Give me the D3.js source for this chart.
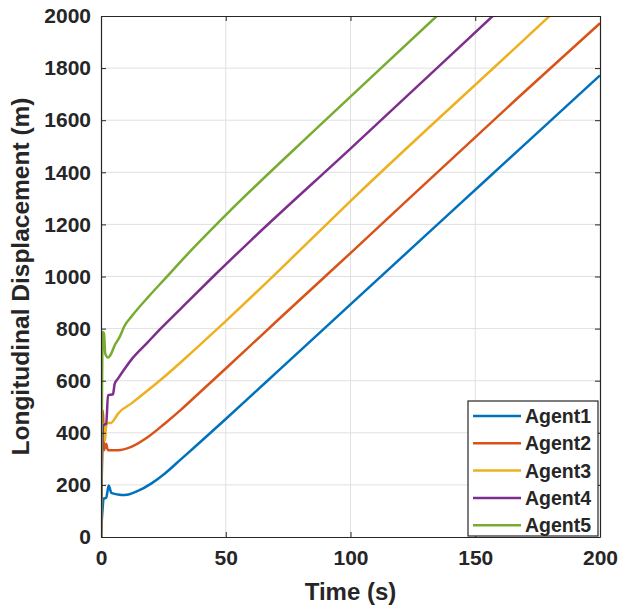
<!DOCTYPE html>
<html>
<head>
<meta charset="utf-8">
<script src="https://cdn.jsdelivr.net/npm/d3@7"></script>
<style>
  body { margin: 0; background: #fff; }
  text { font-family: "Liberation Sans", Arial, sans-serif; font-weight: bold; fill: #262626; }
</style>
</head>
<body>
<svg id="chart" width="637" height="611"></svg>
<script>
const agentNames = ['Agent1', 'Agent2', 'Agent3', 'Agent4', 'Agent5'];
const agentColors = ['#0072BD', '#D95319', '#EDB120', '#7E2F8E', '#77AC30'];

const xTicks = [0, 50, 100, 150, 200];
const yTicks = [0, 200, 400, 600, 800, 1000, 1200, 1400, 1600, 1800, 2000];

// time (s) / displacement (m)
const agent1T = [0, 0.3, 0.7, 1.0, 2.1, 2.6, 3.1, 3.6, 4.1, 6.8, 9.5, 14.8, 20.1, 25.5, 32.1, 38.8, 49.9, 58.8, 70.8, 100, 145.6, 168, 200];
const agent1Y = [0, 60, 115, 147, 151, 175, 198, 185, 169, 163, 161, 177, 205, 243, 299, 356, 452, 530, 636, 893, 1294, 1491, 1772];

const agent2T = [0, 0.3, 0.6, 0.8, 1.0, 1.2, 1.6, 2.1, 2.5, 2.8, 6.8, 12.1, 18.8, 25.5, 32.1, 38.8, 49.9, 58.8, 70.8, 100, 122.9, 168, 200];
const agent2Y = [0, 300, 470, 486, 420, 333, 345, 358, 340, 333, 333, 346, 384, 435, 489, 548, 646, 725, 832, 1090, 1294, 1694, 1972];

const agent3T = [0, 0.3, 0.6, 0.9, 1.3, 1.6, 2.0, 2.5, 4.1, 5.5, 6.8, 12.1, 18.8, 25.5, 32.1, 38.8, 49.9, 70.8, 100.5, 168, 200];
const agent3Y = [0, 250, 400, 435, 390, 370, 420, 438, 438, 454, 473, 512, 563, 616, 672, 730, 828, 1018, 1294, 1895, 2180];

const agent4T = [0, 0.3, 0.6, 0.9, 2.1, 2.8, 4.8, 5.5, 6.8, 9.5, 12.1, 18.8, 23.5, 32.1, 45, 60, 100, 157, 200];
const agent4Y = [0, 230, 380, 429, 435, 544, 548, 589, 608, 646, 680, 748, 796, 878, 1000, 1138, 1491, 2000, 2385];

const agent5T = [0, 0.3, 0.7, 1.2, 1.7, 2.8, 4.1, 5.5, 7.5, 9.5, 12.1, 18.8, 25.5, 34.8, 50, 87.8, 134.6, 200];
const agent5Y = [0, 420, 787, 781, 704, 689, 704, 736, 768, 812, 845, 920, 990, 1087, 1236, 1581, 2000, 2590];

const agentTimes = [agent1T, agent2T, agent3T, agent4T, agent5T];
const agentValues = [agent1Y, agent2Y, agent3Y, agent4Y, agent5Y];

const svg = d3.select('#chart');
const margin = { left: 101, top: 16, right: 37, bottom: 74 };
const width = +svg.attr('width') - margin.left - margin.right;
const height = +svg.attr('height') - margin.top - margin.bottom;

const x = d3.scaleLinear().domain([0, 200]).range([0, width]);
const y = d3.scaleLinear().domain([0, 2000]).range([height, 0]);

const g = svg.append('g').attr('transform', `translate(${margin.left},${margin.top})`);

g.append('clipPath').attr('id', 'clip')
  .append('rect').attr('width', width).attr('height', height);

// grid
g.append('g').selectAll('line').data(xTicks.slice(1, -1)).enter().append('line')
  .attr('x1', d => x(d)).attr('x2', d => x(d)).attr('y1', 0).attr('y2', height)
  .attr('stroke', '#e0e0e0').attr('stroke-width', 1);
g.append('g').selectAll('line').data(yTicks.slice(1, -1)).enter().append('line')
  .attr('y1', d => y(d)).attr('y2', d => y(d)).attr('x1', 0).attr('x2', width)
  .attr('stroke', '#e0e0e0').attr('stroke-width', 1);

// series
const line = d3.line().x(d => x(d[0])).y(d => y(d[1])).curve(d3.curveMonotoneX);
const series = agentNames.map((name, i) => ({
  name: name,
  color: agentColors[i],
  points: agentTimes[i].map((t, j) => [t, agentValues[i][j]])
}));
g.append('g').attr('clip-path', 'url(#clip)')
  .selectAll('path').data(series).enter().append('path')
  .attr('d', d => line(d.points))
  .attr('fill', 'none').attr('stroke', d => d.color)
  .attr('stroke-width', 2.5).attr('stroke-linejoin', 'round');

// axes (inward ticks, box)
const axisColor = '#262626';
const fmt = d3.format('d');
const xAxis = g.append('g').attr('transform', `translate(0,${height})`)
  .call(d3.axisBottom(x).tickValues(xTicks).tickFormat(fmt).tickSizeInner(-5).tickSizeOuter(0).tickPadding(13));
const xTop = g.append('g')
  .call(d3.axisTop(x).tickValues(xTicks).tickSizeInner(-5).tickSizeOuter(0).tickFormat(''));
const yAxis = g.append('g')
  .call(d3.axisLeft(y).tickValues(yTicks).tickFormat(fmt).tickSizeInner(-5).tickSizeOuter(0).tickPadding(10));
const yRight = g.append('g').attr('transform', `translate(${width},0)`)
  .call(d3.axisRight(y).tickValues(yTicks).tickSizeInner(-5).tickSizeOuter(0).tickFormat(''));
[xAxis, xTop, yAxis, yRight].forEach(a => {
  a.select('.domain').attr('stroke', axisColor).attr('stroke-width', 1.2);
  a.selectAll('.tick line').attr('stroke', axisColor);
  a.selectAll('.tick text').attr('font-size', '21px').attr('font-family', null).attr('fill', axisColor);
});

// titles
g.append('text').attr('x', width / 2).attr('y', height + 63)
  .attr('text-anchor', 'middle').attr('font-size', '24px').text('Time (s)');
g.append('text').attr('transform', `translate(-72,${height / 2}) rotate(-90)`)
  .attr('text-anchor', 'middle').attr('font-size', '24.5px').text('Longitudinal Displacement (m)');

// legend
const legend = g.append('g').attr('transform', `translate(${468 - margin.left},${401 - margin.top})`);
legend.append('rect').attr('width', 130).attr('height', 135)
  .attr('fill', '#fff').attr('stroke', axisColor).attr('stroke-width', 1.2);
const item = legend.selectAll('.item').data(series).enter().append('g')
  .attr('class', 'item').attr('transform', (d, i) => `translate(0,${15 + i * 27.3})`);
item.append('line').attr('x1', 5).attr('x2', 53)
  .attr('stroke', d => d.color).attr('stroke-width', 2.5);
item.append('text').attr('x', 57).attr('dy', '0.36em').attr('font-size', '19.5px').text(d => d.name);
</script>
</body>
</html>
